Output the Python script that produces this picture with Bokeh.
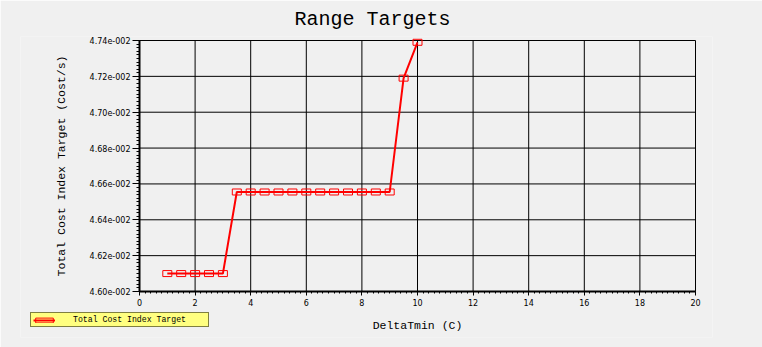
from bokeh.plotting import figure
from bokeh.models import (FixedTicker, CustomJSTickFormatter, Range1d, Legend, LegendItem)
from bokeh.embed import file_html
from bokeh.resources import INLINE

# ---- data ----
delta_tmin = [1.0, 1.5, 2.0, 2.5, 3.0,
              3.5, 4.0, 4.5, 5.0, 5.5, 6.0, 6.5, 7.0, 7.5, 8.0, 8.5, 9.0,
              9.5, 10.0]
cost_target = [0.04610, 0.04610, 0.04610, 0.04610, 0.04610,
               0.046555, 0.046555, 0.046555, 0.046555, 0.046555, 0.046555,
               0.046555, 0.046555, 0.046555, 0.046555, 0.046555, 0.046555,
               0.04719, 0.04739]
x_ticks = [0, 2, 4, 6, 8, 10, 12, 14, 16, 18, 20]
y_ticks = [0.0460, 0.0462, 0.0464, 0.0466, 0.0468, 0.0470, 0.0472, 0.0474]
series_name = "Total Cost Index Target"
title_text = "Range Targets"
x_label = "DeltaTmin (C)"
y_label = "Total Cost Index Target (Cost/s)"

BG = "#f0f0f0"
MONO = "Liberation Mono"

# layout (pixels): visible plot box 139..695 x 40..291; the Bokeh frame is
# extended around it so the legend and edge tick labels are not clipped.
X0, X1 = x_ticks[0], x_ticks[-1]
Y0, Y1 = y_ticks[0], y_ticks[-1]
box_left, box_right, box_top, box_bottom = 139, 695, 40, 291
frame_left, frame_right, frame_top, frame_bottom = 20, 712, 36, 337
px_x = (box_right - box_left) / (X1 - X0)
px_y = (box_bottom - box_top) / (Y1 - Y0)
x_start = X0 - (box_left - frame_left) / px_x
x_end = X1 + (frame_right - box_right) / px_x
y_start = Y0 - (frame_bottom - box_bottom) / px_y
y_end = Y1 + (box_top - frame_top) / px_y

p = figure(width=762, height=347, output_backend="svg", toolbar_location=None,
           x_range=Range1d(x_start, x_end), y_range=Range1d(y_start, y_end),
           frame_width=frame_right - frame_left, frame_height=frame_bottom - frame_top,
           min_border_left=frame_left, min_border_right=762 - frame_right,
           min_border_top=frame_top, min_border_bottom=347 - frame_bottom,
           background_fill_color=BG, border_fill_color=BG,
           outline_line_color=None)

p.title.text = title_text
p.title.text_font = MONO
p.title.text_font_size = "20px"
p.title.text_font_style = "normal"
p.title.text_color = "#000000"
p.title.align = "left"
p.title.offset = 294 - frame_left
p.title.standoff = 11

# axes, pinned to the plot box corner
x_minor = [X0 + i * 0.2 for i in range(0, 101)]
y_minor = [Y0 + i * 0.00002 for i in range(0, 71)]
p.xaxis.ticker = FixedTicker(ticks=x_ticks, minor_ticks=x_minor)
p.yaxis.ticker = FixedTicker(ticks=y_ticks, minor_ticks=y_minor)
p.xaxis.fixed_location = Y0
p.yaxis.fixed_location = X0
p.xaxis.bounds = (X0, X1)
p.yaxis.bounds = (Y0, Y1)
p.yaxis.formatter = CustomJSTickFormatter(code="""
const e = Math.floor(Math.log10(Math.abs(tick)) + 1e-9);
const m = tick / Math.pow(10, e);
const sign = e < 0 ? "-" : "+";
return m.toFixed(2) + "e" + sign + String(Math.abs(e)).padStart(3, "0");
""")
for ax in (p.xaxis, p.yaxis):
    ax.axis_line_color = "black"
    ax.axis_line_width = 2
    ax.major_tick_line_color = "black"
    ax.minor_tick_line_color = "black"
    ax.major_tick_in = 0
    ax.minor_tick_in = 0
    ax.major_label_text_font = "DejaVu Sans"
    ax.major_label_text_font_size = "8px"
    ax.major_label_text_color = "black"
    ax.axis_label_text_font = MONO
    ax.axis_label_text_font_size = "11.5px"
    ax.axis_label_text_font_style = "normal"
    ax.axis_label_text_color = "black"
p.xaxis.major_tick_out = 4
p.xaxis.minor_tick_out = 2
p.yaxis.major_tick_out = 7
p.yaxis.minor_tick_out = 3
p.xaxis.major_label_standoff = 3
p.yaxis.major_label_standoff = 2
p.xaxis.axis_label = x_label
p.yaxis.axis_label = y_label
p.xaxis.axis_label_standoff = 10
p.yaxis.axis_label_standoff = 19

# grid lines, limited to the plot box
p.xgrid.visible = False
p.ygrid.visible = False
p.segment(x0=x_ticks, y0=[Y0] * len(x_ticks), x1=x_ticks, y1=[Y1] * len(x_ticks),
          line_color="black", line_width=1)
p.segment(x0=[X0] * len(y_ticks), y0=y_ticks, x1=[X1] * len(y_ticks), y1=y_ticks,
          line_color="black", line_width=1)

# data
ln = p.line(delta_tmin, cost_target, line_color="red", line_width=2)
mk = p.rect(delta_tmin, cost_target, width=9, height=6,
            width_units="screen", height_units="screen",
            fill_alpha=0, line_color="red", line_width=1)

legend = Legend(items=[LegendItem(label=series_name, renderers=[ln, mk])],
                location=(30 - frame_left, frame_bottom - 327),
                background_fill_color="#ffff80", background_fill_alpha=1.0,
                border_line_color="black", border_line_width=1,
                label_text_font=MONO, label_text_font_size="8.2px",
                label_text_color="black",
                glyph_width=22, glyph_height=6,
                padding=2, margin=0, spacing=0,
                label_standoff=18, label_height=9,
                label_width=133)
p.add_layout(legend, "center")

open("out.html", "w").write(file_html(p, INLINE))
